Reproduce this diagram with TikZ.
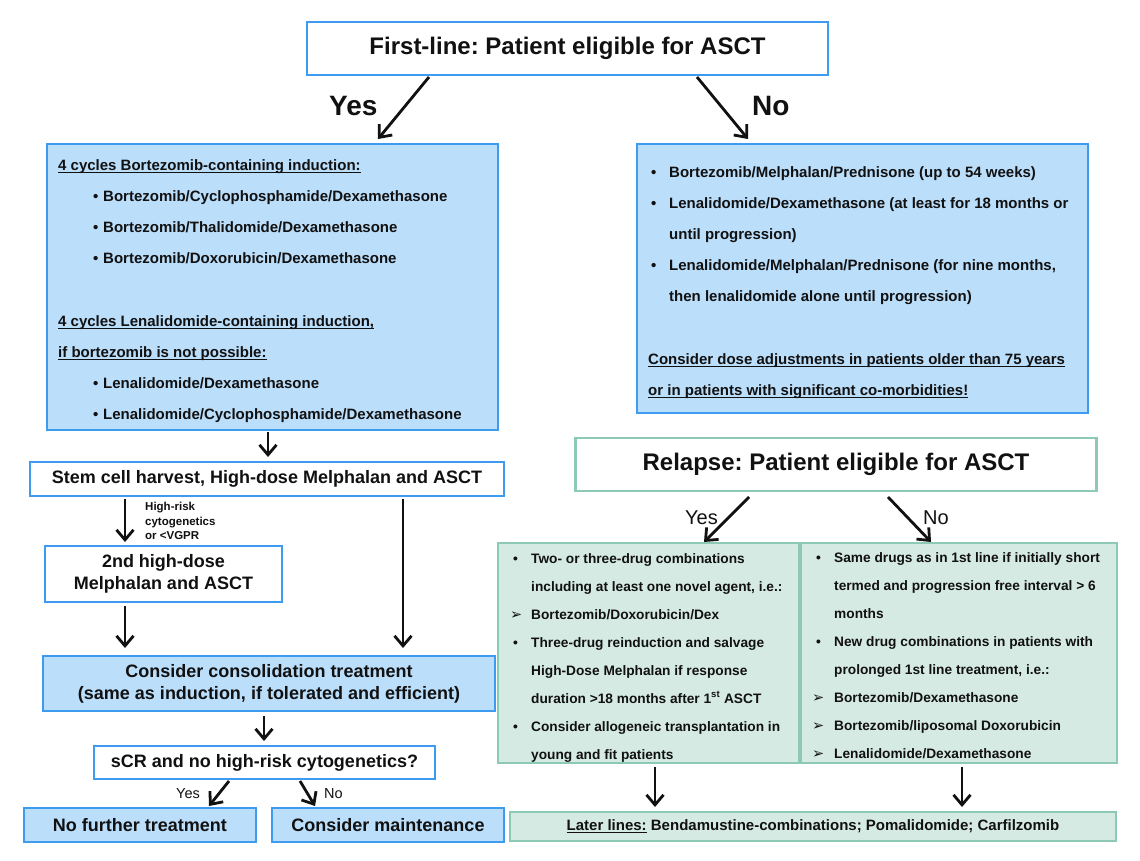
\documentclass[tikz,border=0pt]{standalone}
\usepackage{fontspec}
\setmainfont{Liberation Sans}
\newfontfamily\djv{DejaVu Sans}
\usetikzlibrary{arrows.meta}
\frenchspacing
\definecolor{blueB}{RGB}{61,155,240}
\definecolor{blueF}{RGB}{187,222,251}
\definecolor{tealB}{RGB}{140,202,181}
\definecolor{tealF}{RGB}{214,234,228}
\definecolor{ink}{RGB}{17,17,17}
\newcommand\myul[1]{\underline{\smash{#1}}}
\newcommand\arwb{{\djv\fontsize{14.5}{14}\selectfont\char"27A2}}
\tikzset{
  wbox/.style={draw=blueB, line width=2.5pt, fill=white, inner sep=0pt, text=ink},
  fbox/.style={draw=blueB, line width=2.5pt, fill=blueF, inner sep=0pt, text=ink},
  tbox/.style={draw=tealB, line width=2.8pt, fill=tealF, inner sep=0pt, text=ink},
  twbox/.style={draw=tealB, line width=2.8pt, fill=white, inner sep=0pt, text=ink},
  arr/.style={line width=2.8pt, draw=ink, -{Straight Barb[length=10pt,width=17pt]}},
  tx/.style={inner sep=0pt, anchor=base west, text=ink},
  fa/.style={font=\fontsize{15}{18}\selectfont\bfseries},
  fr/.style={font=\fontsize{13.7}{16}\selectfont\bfseries},
  fbig/.style={font=\fontsize{24}{28}\selectfont\bfseries},
  fmid/.style={font=\fontsize{18}{22}\selectfont\bfseries, align=center},
}
\begin{document}
\begin{tikzpicture}[x=1pt,y=-1pt]
\fill[white] (0,0) rectangle (1140,860);
\useasboundingbox (0,0) rectangle (1140,860);

% ---------- boxes ----------
\node[wbox, fbig, minimum width=521pt, minimum height=53pt] (top) at (567.5,48.5) {First-line: Patient eligible for ASCT};
\node[fbox, minimum width=451pt, minimum height=286pt] (lb) at (272.5,287) {};
\node[fbox, minimum width=451pt, minimum height=269pt] (rb) at (862.5,278.5) {};
\node[wbox, fmid, minimum width=474pt, minimum height=34pt] (stem) at (267,479) {Stem cell harvest, High-dose Melphalan and ASCT};
\node[wbox, fmid, minimum width=237pt, minimum height=56pt] (second) at (163.5,574) {2nd high-dose\\Melphalan and ASCT};
\node[fbox, fmid, minimum width=452pt, minimum height=55pt] (cons) at (269,683.5) {Consider consolidation treatment\\(same as induction, if tolerated and efficient)};
\node[wbox, fmid, minimum width=341pt, minimum height=33pt] (scr) at (264.5,762.5) {sCR and no high-risk cytogenetics?};
\node[fbox, fmid, minimum width=232pt, minimum height=34pt] (nofur) at (140,825) {No further treatment};
\node[fbox, fmid, minimum width=232pt, minimum height=34pt] (maint) at (388,825) {Consider maintenance};
\node[twbox, fbig, minimum width=521pt, minimum height=53pt] (rel) at (836,464.5) {Relapse: Patient eligible for ASCT};
\node[tbox, minimum width=301pt, minimum height=220pt] (rl) at (648.5,653) {};
\node[tbox, minimum width=316pt, minimum height=220pt] (rr) at (959,653) {};
\node[tbox, font=\fontsize{15}{18}\selectfont\bfseries, minimum width=606pt, minimum height=29pt] (later) at (813,826.5) {\myul{Later lines:}\ Bendamustine-combinations; Pomalidomide; Carfilzomib};

% ---------- left induction box text ----------
\node[tx, fa] (l1) at (58,170.4) {\myul{4 cycles Bortezomib-containing induction:}};
\node[tx, fa] (l2b) at (93,201.4) {•};
\node[tx, fa] (l2) at (103,201.4) {Bortezomib/Cyclophosphamide/Dexamethasone};
\node[tx, fa] (l3b) at (93,232.4) {•};
\node[tx, fa] (l3) at (103,232.4) {Bortezomib/Thalidomide/Dexamethasone};
\node[tx, fa] (l4b) at (93,263.4) {•};
\node[tx, fa] (l4) at (103,263.4) {Bortezomib/Doxorubicin/Dexamethasone};
\node[tx, fa] (l5) at (58,326.4) {\myul{4 cycles Lenalidomide-containing induction,}};
\node[tx, fa] (l6) at (58,357.4) {\myul{if bortezomib is not possible:}};
\node[tx, fa] (l7b) at (93,388.4) {•};
\node[tx, fa] (l7) at (103,388.4) {Lenalidomide/Dexamethasone};
\node[tx, fa] (l8b) at (93,419.4) {•};
\node[tx, fa] (l8) at (103,419.4) {Lenalidomide/Cyclophosphamide/Dexamethasone};

% ---------- right first-line box text ----------
\node[tx, fa] (r1b) at (651,177.4) {•};
\node[tx, fa] (r1) at (669,177.4) {Bortezomib/Melphalan/Prednisone (up to 54 weeks)};
\node[tx, fa] (r2b) at (651,208.4) {•};
\node[tx, fa] (r2) at (669,208.4) {Lenalidomide/Dexamethasone (at least for 18 months or};
\node[tx, fa] (r3) at (669,239.4) {until progression)};
\node[tx, fa] (r4b) at (651,270.4) {•};
\node[tx, fa] (r4) at (669,270.4) {Lenalidomide/Melphalan/Prednisone (for nine months,};
\node[tx, fa] (r5) at (669,301.4) {then lenalidomide alone until progression)};
\node[tx, fa] (r6) at (648,364.4) {\myul{Consider dose adjustments in patients older than 75 years}};
\node[tx, fa] (r7) at (648,395.4) {\myul{or in patients with significant co-morbidities!}};

% ---------- relapse left box ----------
\node[tx, fr] (a1b) at (513,563) {•};
\node[tx, fr] (a1) at (531,563) {Two- or three-drug combinations};
\node[tx, fr] (a2) at (531,591) {including at least one novel agent, i.e.:};
\node[tx, fr] (a3b) at (510,619) {\arwb};
\node[tx, fr] (a3) at (531,619) {Bortezomib/Doxorubicin/Dex};
\node[tx, fr] (a4b) at (513,647) {•};
\node[tx, fr] (a4) at (531,647) {Three-drug reinduction and salvage};
\node[tx, fr] (a5) at (531,675) {High-Dose Melphalan if response};
\node[tx, fr] (a6) at (531,703) {duration >18 months after 1\textsuperscript{st} ASCT};
\node[tx, fr] (a7b) at (513,731) {•};
\node[tx, fr] (a7) at (531,731) {Consider allogeneic transplantation in};
\node[tx, fr] (a8) at (531,759) {young and fit patients};

% ---------- relapse right box ----------
\node[tx, fr] (b1b) at (816,562) {•};
\node[tx, fr] (b1) at (834,562) {Same drugs as in 1st line if initially short};
\node[tx, fr] (b2) at (834,590) {termed and progression free interval > 6};
\node[tx, fr] (b3) at (834,618) {months};
\node[tx, fr] (b4b) at (816,646) {•};
\node[tx, fr] (b4) at (834,646) {New drug combinations in patients with};
\node[tx, fr] (b5) at (834,674) {prolonged 1st line treatment, i.e.:};
\node[tx, fr] (b6b) at (812,702) {\arwb};
\node[tx, fr] (b6) at (834,702) {Bortezomib/Dexamethasone};
\node[tx, fr] (b7b) at (812,730) {\arwb};
\node[tx, fr] (b7) at (834,730) {Bortezomib/liposomal Doxorubicin};
\node[tx, fr] (b8b) at (812,758) {\arwb};
\node[tx, fr] (b8) at (834,758) {Lenalidomide/Dexamethasone};

% ---------- labels ----------
\node[tx, font=\fontsize{28}{30}\selectfont\bfseries] (yes1) at (329,115) {Yes};
\node[tx, font=\fontsize{28}{30}\selectfont\bfseries] (no1) at (752,115) {No};
\node[tx, font=\fontsize{11.5}{14}\selectfont\bfseries] (hr1) at (145,510) {High-risk};
\node[tx, font=\fontsize{11.5}{14}\selectfont\bfseries] (hr2) at (145,525) {cytogenetics};
\node[tx, font=\fontsize{11.5}{14}\selectfont\bfseries] (hr3) at (145,539.5) {or <VGPR};
\node[tx, font=\fontsize{14.5}{16}\selectfont] (yes3) at (176,798.2) {Yes};
\node[tx, font=\fontsize{14.5}{16}\selectfont] (no3) at (324,798.2) {No};
\node[tx, font=\fontsize{20}{22}\selectfont] (yes2) at (685,524.2) {Yes};
\node[tx, font=\fontsize{20}{22}\selectfont] (no2) at (923,524.2) {No};

% ---------- connectors ----------
\coordinate (c1) at (429,77);   \coordinate (c2) at (378,139);
\coordinate (c3) at (697,77);   \coordinate (c4) at (748,139);
\coordinate (c5) at (268,432);  \coordinate (c6) at (268,457);
\coordinate (c7) at (125,499);  \coordinate (c8) at (125,542);
\coordinate (c9) at (403,499);  \coordinate (c10) at (403,648);
\coordinate (c11) at (125,606); \coordinate (c12) at (125,648);
\coordinate (c13) at (264,716); \coordinate (c14) at (264,741);
\coordinate (c15) at (229,781); \coordinate (c16) at (209,806);
\coordinate (c17) at (300,781); \coordinate (c18) at (315,806);
\coordinate (c19) at (749,497); \coordinate (c20) at (704,542);
\coordinate (c21) at (888,497); \coordinate (c22) at (931,542);
\coordinate (c23) at (655,767); \coordinate (c24) at (655,807);
\coordinate (c25) at (962,767); \coordinate (c26) at (962,807);
\draw[arr] (c1) -- (c2);
\draw[arr] (c3) -- (c4);
\draw[arr] (c5) -- (c6);
\draw[arr] (c7) -- (c8);
\draw[arr] (c9) -- (c10);
\draw[arr] (c11) -- (c12);
\draw[arr] (c13) -- (c14);
\draw[arr] (c15) -- (c16);
\draw[arr] (c17) -- (c18);
\draw[arr] (c19) -- (c20);
\draw[arr] (c21) -- (c22);
\draw[arr] (c23) -- (c24);
\draw[arr] (c25) -- (c26);
\end{tikzpicture}
\end{document}
